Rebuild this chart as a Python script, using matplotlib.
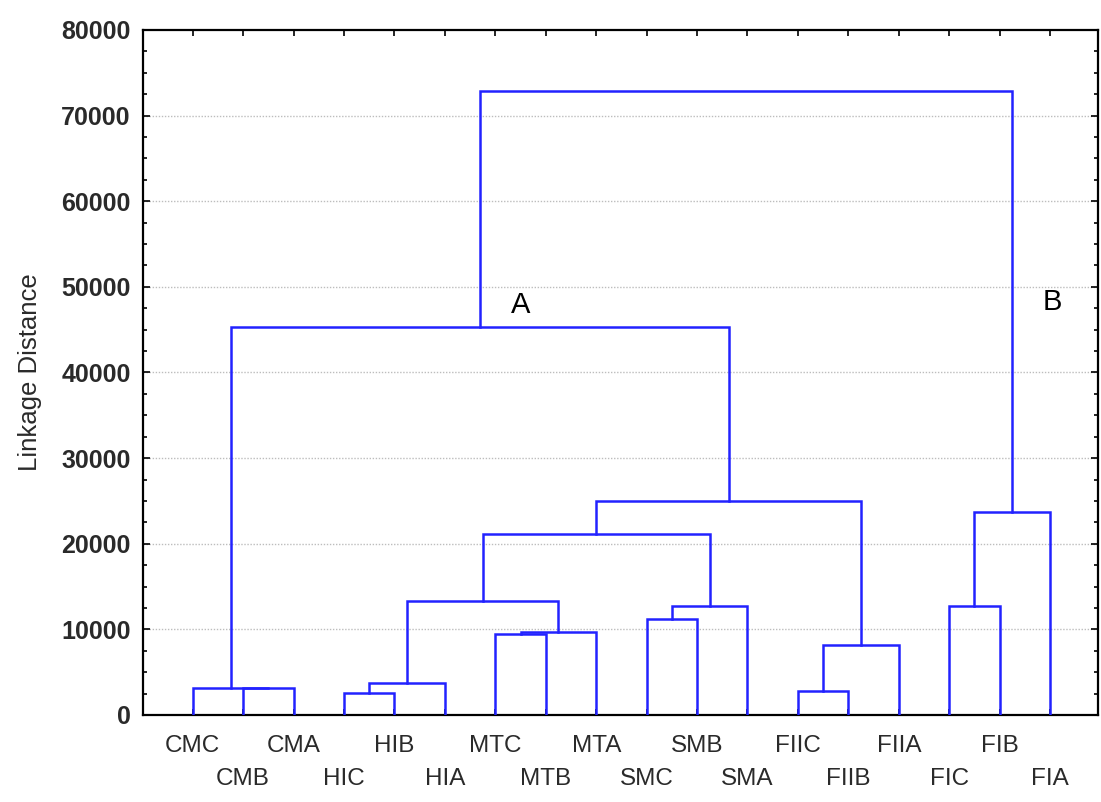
import matplotlib.pyplot as plt
from matplotlib.ticker import MultipleLocator

# ============================================================
# DADOS
# ============================================================

folhas = ["CMC", "CMB", "CMA", "HIC", "HIB", "HIA",
          "MTC", "MTB", "MTA", "SMC", "SMB", "SMA",
          "FIIC", "FIIB", "FIIA", "FIC", "FIB", "FIA"]

# fusoes: (no esquerdo, no direito); novos nos numerados a partir de 18
fus_esq = [1, 0, 3, 20, 6, 22, 9, 24, 12, 26, 15, 28, 21, 30, 31, 19, 33]
fus_dir = [2, 18, 4, 5, 7, 8, 10, 11, 13, 14, 16, 17, 23, 25, 27, 32, 29]
fus_dist = [3100, 3150, 2610, 3700, 9460, 9730, 11180, 12730,
            2840, 8180, 12730, 23680, 13350, 21140, 25030, 45350, 72900]

grupos = ["A", "B"]
grupos_x = [7.5, 18.05]
grupos_y = [47900, 48250]

# ============================================================
# FIGURA
# ============================================================

plt.rcParams["font.family"] = ["Liberation Sans", "DejaVu Sans"]

fig = plt.figure(figsize=(11.01, 8.02), dpi=100)
ax = fig.add_axes([0.1299, 0.1085, 0.8674, 0.8541])

azul = "#2222ff"

pos_x = {i: i + 1 for i in range(len(folhas))}
pos_y = {i: 0 for i in range(len(folhas))}

for k, (a, b, d) in enumerate(zip(fus_esq, fus_dir, fus_dist)):
    xa, xb = pos_x[a], pos_x[b]
    ax.plot([xa, xa, xb, xb], [pos_y[a], d, d, pos_y[b]],
            color=azul, lw=1.8, solid_joinstyle="miter", zorder=3)
    novo = len(folhas) + k
    pos_x[novo] = (xa + xb) / 2
    pos_y[novo] = d

# ============================================================
# EIXOS
# ============================================================

ax.set_xlim(0.015, 18.95)
ax.set_ylim(0, 80000)

ax.yaxis.set_major_locator(MultipleLocator(10000))
ax.yaxis.set_minor_locator(MultipleLocator(2500))
ax.set_xticks(range(1, len(folhas) + 1))
ax.set_xticklabels([])

ax.tick_params(axis="both", which="both", direction="in",
               top=True, right=True, width=1.2)
ax.tick_params(axis="y", which="major", length=5, labelsize=18, pad=9)
ax.tick_params(axis="y", which="minor", length=3)
ax.tick_params(axis="x", length=4)

for lab in ax.get_yticklabels():
    lab.set_fontweight("bold")
    lab.set_color("#2a2a2a")

for s in ax.spines.values():
    s.set_linewidth(1.6)

for v in range(10000, 80000, 10000):
    ax.axhline(v, color="#bdbdbd", lw=1.0, ls=(0, (1, 1.2)), zorder=1)

# rotulos das folhas em duas linhas alternadas
for i, nome in enumerate(folhas):
    dy = -0.045 if i % 2 == 0 else -0.0935
    ax.text(i + 1, dy, nome, transform=ax.get_xaxis_transform(),
            ha="center", va="center", fontsize=17.5, color="#2a2a2a")

ax.set_ylabel("Linkage Distance", fontsize=18.5, color="#2a2a2a", labelpad=14)

for g, gx, gy in zip(grupos, grupos_x, grupos_y):
    ax.text(gx, gy, g, ha="center", va="center", fontsize=21, color="black")

# ============================================================
# EXPORTACAO
# ============================================================

plt.savefig("out.png", dpi=100)
